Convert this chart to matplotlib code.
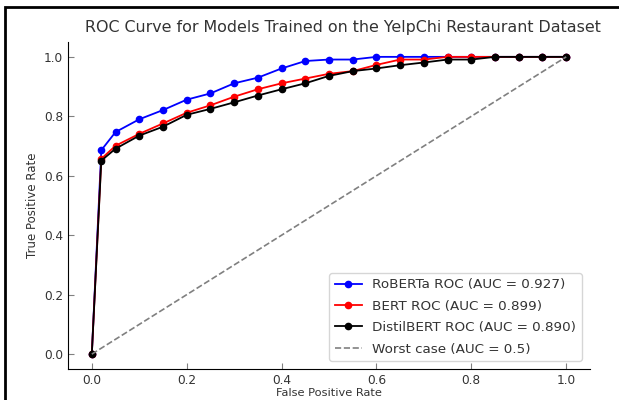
import matplotlib
matplotlib.use("Agg")
import matplotlib.pyplot as plt
from matplotlib.patches import Rectangle

fpr = [0.0, 0.02, 0.05, 0.1, 0.15, 0.2, 0.25, 0.3, 0.35, 0.4, 0.45,
       0.5, 0.55, 0.6, 0.65, 0.7, 0.75, 0.8, 0.85, 0.9, 0.95, 1.0]

tpr_roberta = [0.0, 0.686, 0.747, 0.79, 0.821, 0.856, 0.877, 0.911, 0.93, 0.961, 0.986,
               0.991, 0.991, 1.0, 1.0, 1.0, 1.0, 1.0, 1.0, 1.0, 1.0, 1.0]
tpr_bert = [0.0, 0.657, 0.701, 0.741, 0.776, 0.812, 0.837, 0.866, 0.891, 0.911, 0.927,
            0.943, 0.952, 0.973, 0.991, 0.991, 1.0, 1.0, 1.0, 1.0, 1.0, 1.0]
tpr_distil = [0.0, 0.651, 0.691, 0.735, 0.765, 0.805, 0.825, 0.847, 0.87, 0.891, 0.911,
              0.936, 0.952, 0.961, 0.972, 0.981, 0.991, 0.991, 1.0, 1.0, 1.0, 1.0]

labels = ["RoBERTa ROC (AUC = 0.927)", "BERT ROC (AUC = 0.899)",
          "DistilBERT ROC (AUC = 0.890)", "Worst case (AUC = 0.5)"]

txt = "#333333"

fig = plt.figure(figsize=(6.19, 4.0), dpi=100)
ax = fig.add_axes([0.11, 0.0775, 0.843, 0.8175])

ax.plot(fpr, tpr_roberta, "o-", color="blue", lw=1.3, ms=4.5, label=labels[0])
ax.plot(fpr, tpr_bert, "o-", color="red", lw=1.3, ms=4.5, label=labels[1])
ax.plot(fpr, tpr_distil, "o-", color="black", lw=1.3, ms=4.5, label=labels[2])
ax.plot([0, 1], [0, 1], "--", color="gray", lw=1.2, label=labels[3])

ax.set_xlim(-0.05, 1.05)
ax.set_ylim(-0.05, 1.05)
ax.set_xticks([0, 0.2, 0.4, 0.6, 0.8, 1.0])
ax.set_yticks([0, 0.2, 0.4, 0.6, 0.8, 1.0])
ax.spines["top"].set_visible(False)
ax.spines["right"].set_visible(False)
ax.tick_params(direction="in", length=4, color="gray", labelcolor=txt, labelsize=8.7)

ax.set_xlabel("False Positive Rate", color=txt, fontsize=8.2, labelpad=1)
ax.set_ylabel("True Positive Rate", color=txt, fontsize=8.5, labelpad=4)
ax.set_title("ROC Curve for Models Trained on the YelpChi Restaurant Dataset",
             color=txt, fontsize=11.4, pad=7, x=0.527)

leg = ax.legend(loc="lower right", fontsize=9.7, labelcolor=txt, labelspacing=0.62,
                borderaxespad=0.6)

# dark frame around the figure
fig.patches.append(Rectangle((5 / 619, -0.1), 1.2, 1.1 - 7 / 400, transform=fig.transFigure,
                             fill=False, edgecolor="black", lw=2))

fig.savefig("out.png", dpi=100)
